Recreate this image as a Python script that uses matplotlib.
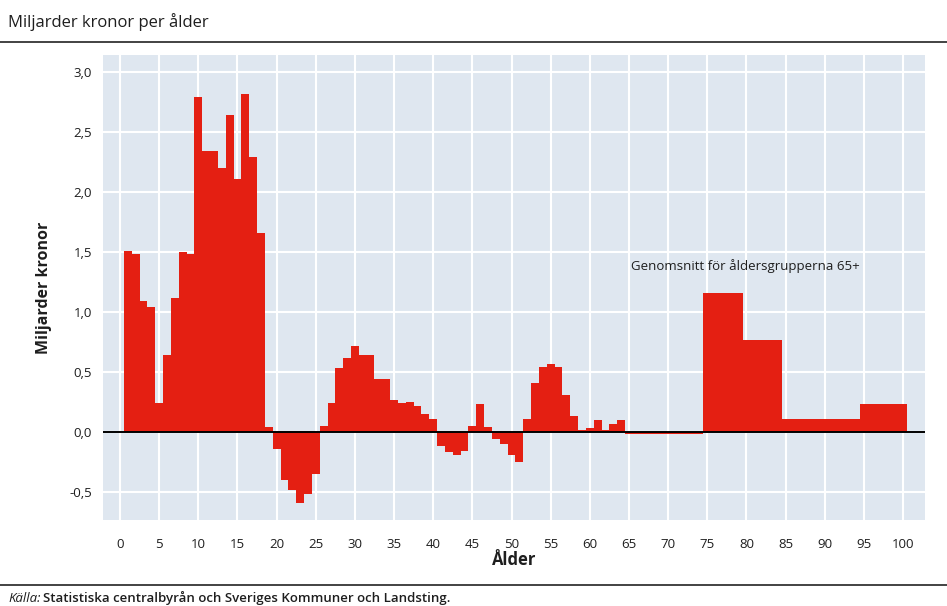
#!/usr/bin/env python3
"""Miljarder kronor per ålder: bar chart with per-age values and 65+ group averages."""

import matplotlib
matplotlib.use("Agg")
import matplotlib.pyplot as plt
from matplotlib.lines import Line2D

OUT = "out.png"

RED = "#e41f12"
BG = "#dfe7f0"
INK = "#1e1e1e"

plt.rcParams["font.family"] = ["Open Sans", "DejaVu Sans"]

# per-age values, ages 1..64 (billion SEK)
ages = list(range(1, 65))
values = [
    1.51, 1.48, 1.09, 1.04, 0.24, 0.64, 1.12, 1.50, 1.48, 2.79,
    2.34, 2.34, 2.20, 2.64, 2.11, 2.82, 2.29, 1.66, 0.04, -0.14,
    -0.40, -0.48, -0.59, -0.52, -0.35, 0.05, 0.24, 0.53, 0.62, 0.72,
    0.64, 0.64, 0.44, 0.44, 0.27, 0.24, 0.25, 0.22, 0.15, 0.11,
    -0.12, -0.17, -0.19, -0.16, 0.05, 0.23, 0.04, -0.06, -0.10, -0.19,
    -0.25, 0.11, 0.41, 0.54, 0.57, 0.54, 0.31, 0.13, 0.015, 0.035,
    0.10, 0.02, 0.07, 0.10,
]

# averages for the age groups 65+
group_first = [65, 75, 80, 85, 95]
group_last = [74, 79, 84, 94, 100]
group_values = [-0.02, 1.16, 0.77, 0.105, 0.235]

xticks = list(range(0, 101, 5))
yticks = [-0.5, 0.0, 0.5, 1.0, 1.5, 2.0, 2.5, 3.0]


def main():
    fig = plt.figure(figsize=(9.47, 6.06), dpi=100)
    ax = fig.add_axes([103 / 947, 86 / 606, 822 / 947, 465 / 606])
    ax.set_facecolor(BG)

    ax.bar(ages, values, width=1.0, color=RED, linewidth=0, zorder=3)
    lefts = [a - 0.5 for a in group_first]
    widths = [b - a + 1 for a, b in zip(group_first, group_last)]
    ax.bar(lefts, group_values, width=widths, align="edge",
           color=RED, linewidth=0, zorder=3)

    ax.axhline(0, color="black", lw=1.4, zorder=4)

    ax.set_xlim(-2.17, 102.8)
    ax.set_ylim(-0.733, 3.142)
    ax.set_xticks(xticks)
    ax.set_xticklabels([str(t) for t in xticks])
    ax.set_yticks(yticks)
    ax.set_yticklabels([f"{t:.1f}".replace(".", ",") for t in yticks])
    ax.tick_params(length=0, labelsize=9.5, colors=INK)
    ax.tick_params(axis="x", pad=13)
    ax.tick_params(axis="y", pad=8)
    ax.grid(True, color="white", lw=1.5, zorder=1)
    for s in ax.spines.values():
        s.set_visible(False)

    ax.set_xlabel("Ålder", fontsize=12, fontweight="bold", color=INK, labelpad=0)
    ax.set_ylabel("Miljarder kronor", fontsize=11.5, fontweight="bold",
                  color=INK, labelpad=12)

    ax.text(65.3, 1.38, "Genomsnitt för åldersgrupperna 65+",
            fontsize=9.5, color=INK, va="center", ha="left", zorder=5)

    fig.text(8 / 947, 1 - 22 / 606, "Miljarder kronor per ålder",
             fontsize=12, color=INK, va="center", ha="left")
    fig.add_artist(Line2D([0, 1], [1 - 42 / 606] * 2, color="#222",
                          lw=1.2, transform=fig.transFigure))
    fig.add_artist(Line2D([0, 1], [1 - 585 / 606] * 2, color="#222",
                          lw=1.2, transform=fig.transFigure))

    t1 = fig.text(8 / 947, 1 - 598 / 606, "Källa:", fontsize=9.5,
                  style="italic", color=INK, va="center", ha="left")
    ax.annotate("Statistiska centralbyrån och Sveriges Kommuner och Landsting.",
                xy=(1, 0.5), xycoords=t1, xytext=(2, 0),
                textcoords="offset points", va="center", ha="left",
                fontsize=9.5, fontweight="semibold", color=INK)

    fig.savefig(OUT, dpi=100)
    plt.close(fig)


if __name__ == "__main__":
    main()
